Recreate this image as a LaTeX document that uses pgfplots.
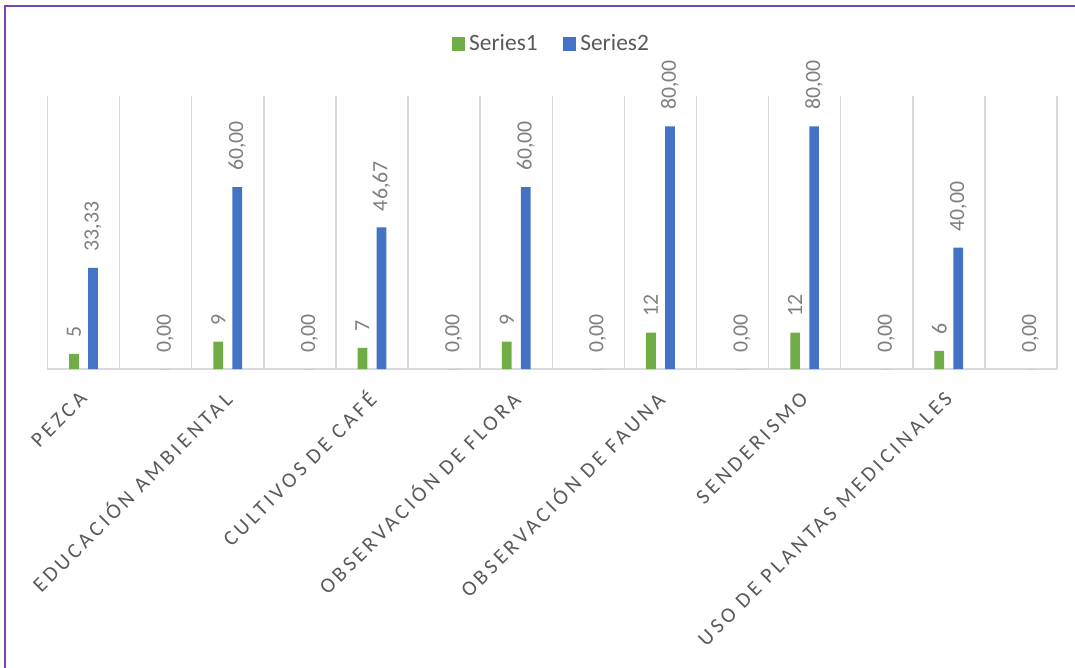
\documentclass[border=0pt]{standalone}
\usepackage{pgfplots}
\pgfplotsset{compat=1.18}
\usepackage{fontspec}
\setmainfont{Carlito}
\newfontfamily\catfont[LetterSpace=17]{Carlito}
\definecolor{sgreen}{HTML}{70AD47}
\definecolor{sblue}{HTML}{4472C4}
\definecolor{gridgray}{HTML}{D9D9D9}
\definecolor{labgray}{HTML}{7F7F7F}
\definecolor{txtgray}{HTML}{595959}
\definecolor{framepurple}{RGB}{120,70,180}
\begin{document}
\begin{tikzpicture}
\begin{axis}[name=ax, at={(0,0)}, anchor=south west,
  scale only axis, width=504.75bp, height=136.5bp,
  ybar=4.65bp, bar width=4.85bp,
  xmin=0.5, xmax=14.5, ymin=0, ymax=90,
  axis x line*=bottom, axis y line=none,
  x axis line style={draw=gridgray, line width=0.75bp},
  xtick={1,3,...,13},
  xticklabels={PEZCA,EDUCACIÓN AMBIENTAL,CULTIVOS DE CAFÉ,OBSERVACIÓN DE FLORA,OBSERVACIÓN DE FAUNA,SENDERISMO,USO DE PLANTAS MEDICINALES},
  major tick length=0pt, minor tick length=0pt,
  minor xtick={0.5,1.5,...,14.5},
  xminorgrids, minor grid style={draw=gridgray, line width=0.75bp},
  xticklabel style={rotate=45, anchor=east, inner sep=0pt,
    font=\catfont\fontsize{10.6bp}{12bp}\selectfont, text=txtgray},
  xticklabel shift=13bp,
  ytick=\empty,
  clip=false,
  nodes near coords,
  point meta=explicit symbolic,
  nodes near coords style={rotate=90, anchor=west, inner xsep=8bp, inner ysep=0pt,
    font=\fontsize{10.9bp}{12bp}\selectfont, text=labgray},
  legend columns=2,
  legend style={at={(0.5,1.19)}, anchor=center, draw=none, fill=none,
    font=\fontsize{11.7bp}{13bp}\selectfont, text=txtgray,
    /tikz/every even column/.append style={column sep=10.5bp}},
  legend image code/.code={\fill[#1] (0bp,-3.4bp) rectangle (6.8bp,3.4bp);},
]
% Series1: only the odd categories carry a value
\addplot[fill=sgreen, draw=none] coordinates {
  (1,5) [5] (3,9) [9] (5,7) [7] (7,9) [9] (9,12) [12] (11,12) [12] (13,6) [6]
};
\addplot[fill=sblue, draw=none] coordinates {
  (1,33.33) [33,33] (2,0) [0,00] (3,60) [60,00] (4,0) [0,00]
  (5,46.67) [46,67] (6,0) [0,00] (7,60) [60,00] (8,0) [0,00]
  (9,80) [80,00] (10,0) [0,00] (11,80) [80,00] (12,0) [0,00]
  (13,40) [40,00] (14,0) [0,00]
};
\legend{Series1,Series2}
\end{axis}
\pgfresetboundingbox
\path[use as bounding box] ([shift={(-23.75bp,-149.5bp)}]ax.south west)
  rectangle ([shift={(513.75bp,184.5bp)}]ax.south west);
\draw[framepurple, line width=1bp] ([shift={(-21bp,-149.5bp)}]ax.south west)
  -- ([shift={(-21bp,181.5bp)}]ax.south west)
  -- ([shift={(513.75bp,181.5bp)}]ax.south west);
\end{tikzpicture}
\end{document}
